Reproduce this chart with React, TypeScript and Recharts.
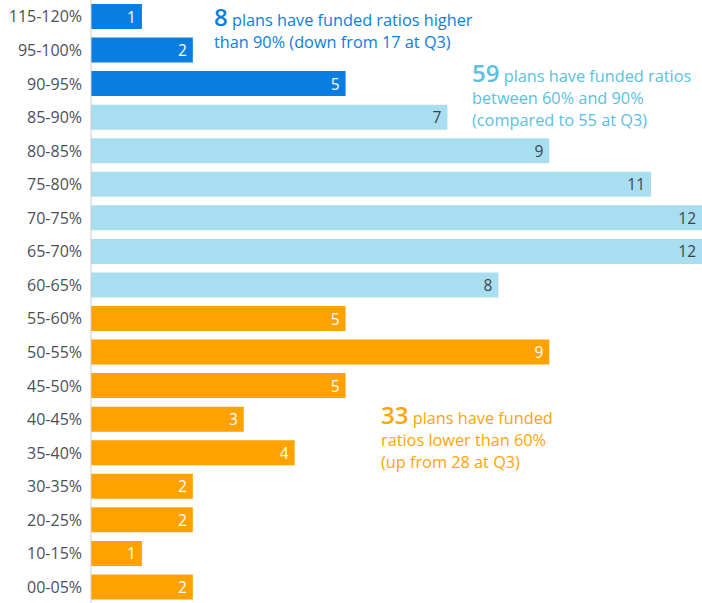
import React from "react";
import { BarChart, Bar, XAxis, YAxis, Cell, LabelList } from "recharts";

const categories = [
  "115-120%", "95-100%", "90-95%", "85-90%", "80-85%", "75-80%", "70-75%", "65-70%", "60-65%",
  "55-60%", "50-55%", "45-50%", "40-45%", "35-40%", "30-35%", "20-25%", "10-15%", "00-05%",
];
const plans = [1, 2, 5, 7, 9, 11, 12, 12, 8, 5, 9, 5, 3, 4, 2, 2, 1, 2];
const groups = [
  "high", "high", "high", "mid", "mid", "mid", "mid", "mid", "mid",
  "low", "low", "low", "low", "low", "low", "low", "low", "low",
];

const data = categories.map((name, i) => ({ name, value: plans[i], group: groups[i] }));

const fills: Record<string, string> = { high: "#0a7ee0", mid: "#a8def0", low: "#ffa200" };
const labelColors: Record<string, string> = { high: "#ffffff", mid: "#3b4452", low: "#ffffff" };

const font = "'Open Sans', 'DejaVu Sans', sans-serif";

const renderLabel = (props: any) => {
  const { x, y, width, height, index } = props;
  const g = data[index].group;
  return (
    <text
      x={x + width - 6}
      y={y + height / 2}
      textAnchor="end"
      dominantBaseline="central"
      fill={labelColors[g]}
      fontSize={15.5}
      fontFamily={font}
    >
      {data[index].value}
    </text>
  );
};

const note = (color: string): React.CSSProperties => ({
  position: "absolute",
  color,
  fontFamily: font,
  fontSize: 16.3,
  lineHeight: "22px",
  whiteSpace: "nowrap",
});
const big: React.CSSProperties = { fontSize: 24, fontWeight: 600, lineHeight: "22px" };

export default function App() {
  return (
    <div style={{ position: "absolute", left: 0, top: 0, width: 702, height: 603, background: "#fff" }}>
      <BarChart
        width={702}
        height={604}
        data={data}
        layout="vertical"
        margin={{ top: 0, right: 0, bottom: 0, left: 0 }}
        barSize={25}
      >
        <XAxis type="number" domain={[0, 12]} hide />
        <YAxis
          type="category"
          dataKey="name"
          width={91}
          axisLine={{ stroke: "#cccccc" }}
          tickLine={false}
          tickMargin={3}
          tick={{ fontSize: 16, fill: "#4a505c", fontFamily: font }}
          interval={0}
        />
        <Bar dataKey="value" isAnimationActive={false}>
          {data.map((d, i) => (
            <Cell key={i} fill={fills[d.group]} />
          ))}
          <LabelList dataKey="value" content={renderLabel} />
        </Bar>
      </BarChart>
      <div style={{ ...note("#0a7ee0"), left: 214, top: 6 }}>
        <span style={big}>8</span> plans have funded ratios higher
        <br />
        than 90% (down from 17 at Q3)
      </div>
      <div style={{ ...note("#5cc0e2"), left: 472, top: 62 }}>
        <span style={big}>59</span> plans have funded ratios
        <br />
        between 60% and 90%
        <br />
        (compared to 55 at Q3)
      </div>
      <div style={{ ...note("#ffa500"), left: 381, top: 404 }}>
        <span style={big}>33</span> plans have funded
        <br />
        ratios lower than 60%
        <br />
        (up from 28 at Q3)
      </div>
    </div>
  );
}
